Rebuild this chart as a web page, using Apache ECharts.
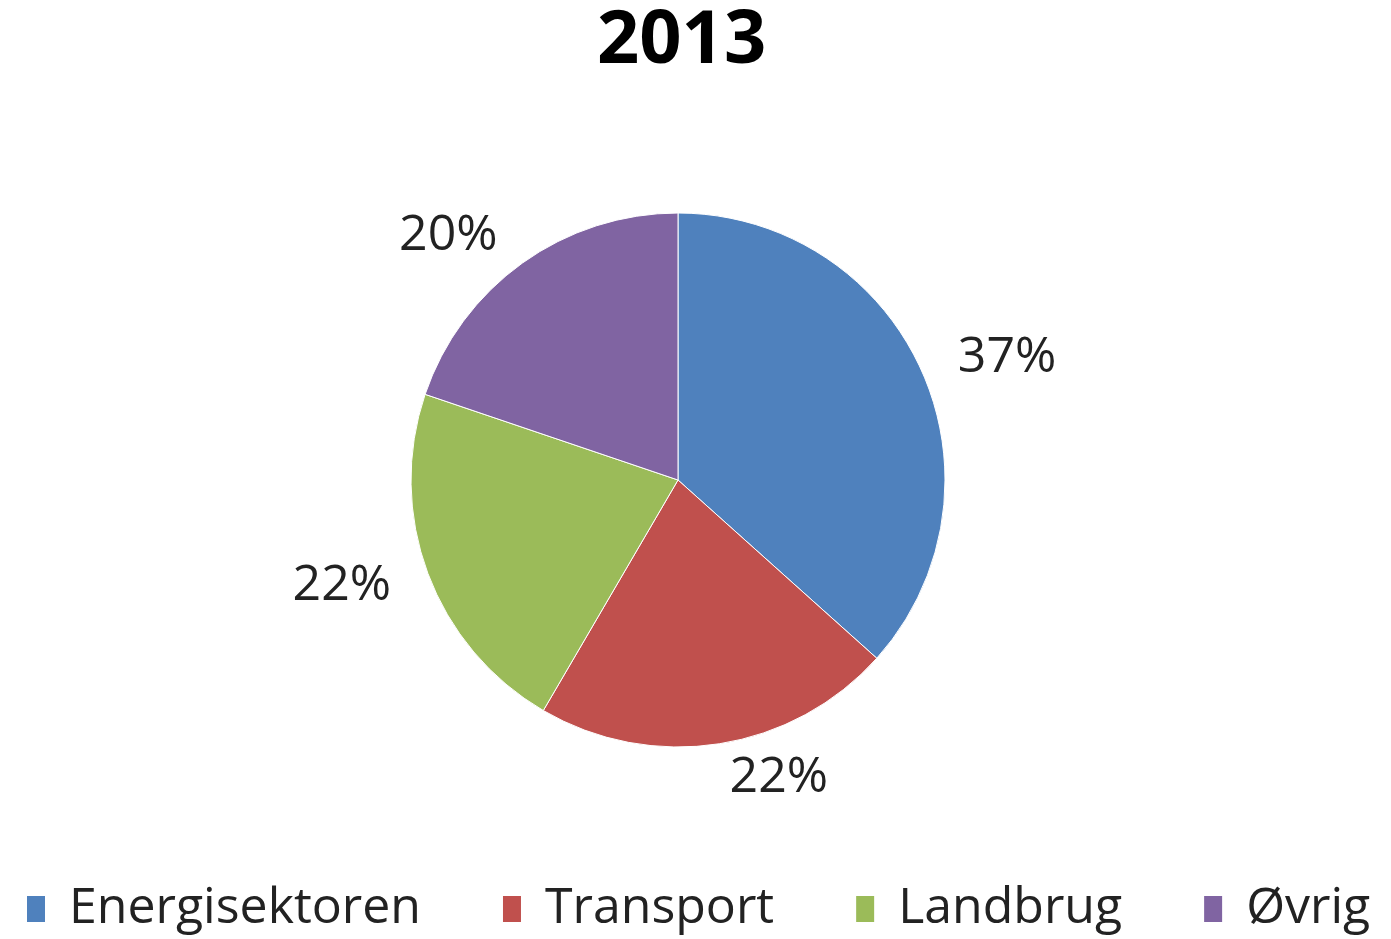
<!DOCTYPE html>
<html>
<head>
<meta charset="utf-8">
<script src="https://cdn.jsdelivr.net/npm/echarts@6/dist/echarts.min.js"></script>
<style>
  html, body { margin: 0; padding: 0; background: #fff; }
  #chart { width: 1391px; height: 939px; }
</style>
</head>
<body>
<div id="chart"></div>
<script>
const titleText = '2013'
const categories = ['Energisektoren', 'Transport', 'Landbrug', 'Øvrig']
const shares = [37, 22, 22, 20]
const colors = ['#4F81BD', '#C0504D', '#9BBB59', '#8064A2']

const myChart = echarts.init(document.getElementById('chart'))
const option = {
    color: colors,
    title: {
        text: titleText,
        left: 592,
        top: 0,
        textStyle: {
            fontFamily: 'Open Sans',
            fontSize: 74,
            fontWeight: 'bold',
            color: '#000'
        }
    },
    legend: {
        bottom: 0,
        left: 20,
        icon: 'rect',
        itemWidth: 20,
        itemHeight: 28,
        itemGap: 80,
        data: categories,
        textStyle: {
            fontFamily: 'Open Sans',
            fontSize: 50,
            color: '#222',
            padding: [0, 0, 0, 18]
        }
    },
    series: [
        {
            type: 'pie',
            center: [678, 480],
            radius: 267,
            startAngle: 90,
            clockwise: true,
            avoidLabelOverlap: false,
            itemStyle: {
                borderColor: '#fff',
                borderWidth: 1
            },
            label: {
                show: true,
                position: 'outside',
                fontFamily: 'Open Sans',
                fontSize: 50,
                color: '#222',
                formatter(params) {
                    return `${params.value}%`
                }
            },
            labelLine: {
                show: false,
                length: 34,
                length2: 0
            },
            data: categories.map((name, i) => ({ name, value: shares[i] }))
        }
    ]
}
myChart.setOption(option)
</script>
</body>
</html>
